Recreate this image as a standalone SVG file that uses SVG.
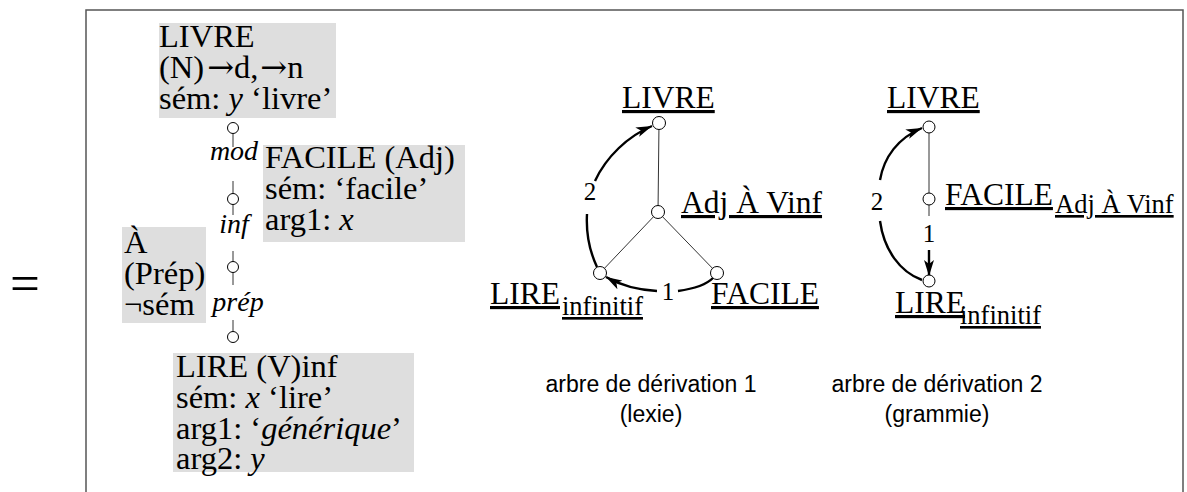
<svg xmlns="http://www.w3.org/2000/svg" width="1187" height="492" viewBox="0 0 1187 492">
<style>
.bx{fill:#dedede;stroke:none}
.t{font-family:"Liberation Serif","Times New Roman",serif;font-size:32.5px;fill:#000}
.it{font-style:italic}
.arw{font-family:"DejaVu Serif",serif;font-size:32px}
.lb{font-family:"Liberation Serif","Times New Roman",serif;font-size:28px;font-style:italic;fill:#000}
.num{font-family:"Liberation Serif","Times New Roman",serif;font-size:25px;fill:#000}
.u{font-family:"Liberation Serif","Times New Roman",serif;font-size:31.5px;fill:#000;text-decoration:underline}
.us{font-family:"Liberation Serif","Times New Roman",serif;font-size:26.5px;fill:#000;text-decoration:underline}
.cap{font-family:"Liberation Sans",Arial,sans-serif;font-size:23px;fill:#000;text-anchor:middle}
.nd{fill:#fff;stroke:#000;stroke-width:1}
.ln{stroke:#333;stroke-width:1;fill:none}
.ar{stroke:#000;stroke-width:2.4;fill:none}
</style>
<defs>
<marker id="ah" markerUnits="userSpaceOnUse" viewBox="0 0 16 10" refX="16" refY="5" markerWidth="16" markerHeight="10" orient="auto">
<path d="M0,0 L16,5 L0,10 L4,5 z" fill="#000"/>
</marker>
</defs>

<rect x="86" y="10" width="1097" height="500" fill="none" stroke="#555" stroke-width="1.5"/>
<text x="10" y="301" font-family="Liberation Serif, serif" font-size="53">=</text>

<g id="connectors">
<line class="ln" x1="233" y1="128" x2="233" y2="147"/>
<line class="ln" x1="233" y1="181" x2="233" y2="215"/>
<line class="ln" x1="233" y1="251" x2="233" y2="285"/>
<line class="ln" x1="233" y1="320" x2="233" y2="337"/>
<line class="ln" x1="659" y1="123" x2="658" y2="212"/>
<line class="ln" x1="658" y1="212" x2="600" y2="273"/>
<line class="ln" x1="658" y1="212" x2="717" y2="273"/>
<path class="ar" d="M597 267 C590 252, 586 232, 587 214"/>
<path class="ar" d="M595 181 C606 157, 628 136, 652 126" marker-end="url(#ah)"/>
<path class="ar" d="M713 278 C705 286, 692 289, 678 291"/>
<path class="ar" d="M657 291 C640 290, 620 285, 606 277" marker-end="url(#ah)"/>
<line class="ln" x1="929" y1="127" x2="929" y2="216"/>
<path class="ar" d="M922 280 C900 272, 884 250, 880 221"/>
<path class="ar" d="M880 180 C884 157, 898 138, 922 128" marker-end="url(#ah)"/>
<path class="ar" d="M929 250 L929 276" marker-end="url(#ah)"/>
</g>

<g id="node-livre-entry">
<rect class="bx" x="159" y="23" width="177" height="95"/>
<text class="t" x="159" y="47">LIVRE</text>
<text class="t" x="159" y="78">(N)<tspan class="arw" dx="3">→</tspan>d,<tspan class="arw" dx="2">→</tspan>n</text>
<text class="t" x="159" y="109">sém: <tspan class="it">y</tspan> ‘livre’</text>
</g>
<g id="node-facile-entry">
<rect class="bx" x="263" y="145" width="202" height="97"/>
<text class="t" x="265" y="168">FACILE (Adj)</text>
<text class="t" x="265" y="199">sém: ‘facile’</text>
<text class="t" x="265" y="230">arg1: <tspan class="it">x</tspan></text>
</g>
<g id="node-a-entry">
<rect class="bx" x="122" y="227" width="84" height="96"/>
<text class="t" x="124" y="253">À</text>
<text class="t" x="124" y="284">(Prép)</text>
<text class="t" x="124" y="315">¬sém</text>
</g>
<g id="node-lire-entry">
<rect class="bx" x="173" y="353" width="241" height="119"/>
<text class="t" x="176" y="377">LIRE (V)inf</text>
<text class="t" x="176" y="408">sém: <tspan class="it">x</tspan> ‘lire’</text>
<text class="t" x="176" y="439">arg1: ‘<tspan class="it">générique</tspan>’</text>
<text class="t" x="176" y="469">arg2: <tspan class="it">y</tspan></text>
</g>
<g id="tree-left">
<circle class="nd" cx="233" cy="128" r="5.5"/>
<circle class="nd" cx="233" cy="199" r="5.5"/>
<circle class="nd" cx="233" cy="267" r="5.5"/>
<circle class="nd" cx="233" cy="337" r="5.5"/>
<text class="lb" x="234" y="160" text-anchor="middle">mod</text>
<text class="lb" x="234" y="233" text-anchor="middle">inf</text>
<text class="lb" x="238" y="311" text-anchor="middle">prép</text>
</g>

<g id="g1-livre"><circle class="nd" cx="659" cy="123" r="6.5"/><text class="u" x="622" y="108">LIVRE</text></g>
<g id="g1-adj"><circle class="nd" cx="658" cy="212" r="6.5"/><text class="u" x="681" y="213">Adj À Vinf</text></g>
<g id="g1-lire"><circle class="nd" cx="600" cy="273" r="6.5"/><text class="u" x="490" y="304">LIRE</text><text class="us" x="562" y="315">infinitif</text></g>
<g id="g1-facile"><circle class="nd" cx="717" cy="273" r="6.5"/><text class="u" x="711" y="304">FACILE</text></g>
<text class="num" x="590" y="200" text-anchor="middle">2</text>
<text class="num" x="668" y="300" text-anchor="middle">1</text>

<g id="g2-livre"><circle class="nd" cx="929" cy="127" r="6"/><text class="u" x="887" y="108">LIVRE</text></g>
<g id="g2-facile"><circle class="nd" cx="929" cy="199" r="6"/><text class="u" x="945" y="205">FACILE</text><text class="us" x="1055" y="213">Adj À Vinf</text></g>
<g id="g2-lire"><circle class="nd" cx="929" cy="281" r="6"/><text class="u" x="895" y="313">LIRE</text><text class="us" x="960" y="324">infinitif</text></g>
<text class="num" x="877" y="210" text-anchor="middle">2</text>
<text class="num" x="929" y="242" text-anchor="middle">1</text>

<g id="captions">
<text class="cap" x="651" y="392">arbre de dérivation 1</text>
<text class="cap" x="651" y="422">(lexie)</text>
<text class="cap" x="937" y="392">arbre de dérivation 2</text>
<text class="cap" x="937" y="422">(grammie)</text>
</g>
</svg>
